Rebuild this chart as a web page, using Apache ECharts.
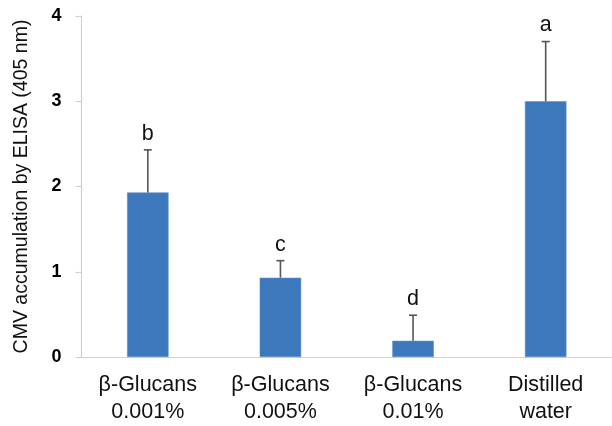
<!DOCTYPE html>
<html><head><meta charset="utf-8">
<script src="https://cdn.jsdelivr.net/npm/echarts@6/dist/echarts.min.js"></script>
<style>html,body{margin:0;padding:0;background:#fff}#c{width:612px;height:426px}</style>
</head><body><div id="c"></div>
<script>
const categories = ['β-Glucans\n0.001%', 'β-Glucans\n0.005%', 'β-Glucans\n0.01%', 'Distilled\nwater'];
const means = [1.93, 0.93, 0.19, 3.00];
const errors = [0.50, 0.20, 0.30, 0.70];
const letters = ['b', 'c', 'd', 'a'];
const yTicks = [0, 1, 2, 3, 4];

const errData = means.map((m, i) => [i, m, m + errors[i]]);

const chart = echarts.init(document.getElementById('c'));
chart.setOption({
  animation: false,
  grid: { left: 81.5, top: 16, width: 536, height: 346, containLabel: false },
  xAxis: {
    type: 'category', data: categories,
    axisLine: { lineStyle: { color: '#d0d0d0', width: 1.2 } },
    axisTick: { show: false },
    axisLabel: { color: '#111', fontSize: 21.5, fontFamily: 'Liberation Sans, Arial', lineHeight: 27, margin: 15, interval: 0 }
  },
  yAxis: {
    type: 'value', min: yTicks[0], max: yTicks[yTicks.length - 1], interval: 1,
    name: 'CMV accumulation by ELISA (405 nm)', nameLocation: 'middle', nameGap: 50, nameRotate: 90,
    nameTextStyle: { color: '#111', fontSize: 19.5, fontFamily: 'Liberation Sans, Arial' },
    axisLine: { show: true, lineStyle: { color: '#d0d0d0', width: 1.2 } },
    axisTick: { show: true, length: 6, lineStyle: { color: '#d0d0d0', width: 1.2 } },
    splitLine: { show: false },
    axisLabel: { color: '#000', fontSize: 18, fontWeight: 'bold', fontFamily: 'Liberation Sans, Arial', margin: 20 }
  },
  series: [
    {
      type: 'bar', data: means, barWidth: 41.5,
      itemStyle: { color: '#3d78bc', borderColor: '#5a8fcc', borderWidth: 0.6 }
    },
    {
      type: 'custom', data: errData, z: 5,
      renderItem: function (params, api) {
        const i = api.value(0);
        const base = api.coord([i, api.value(1)]);
        const top = api.coord([i, api.value(2)]);
        const cw = 4;
        return {
          type: 'group',
          children: [
            { type: 'line', shape: { x1: top[0], y1: base[1], x2: top[0], y2: top[1] }, style: { stroke: '#555', lineWidth: 1.6 } },
            { type: 'line', shape: { x1: top[0] - cw, y1: top[1], x2: top[0] + cw, y2: top[1] }, style: { stroke: '#555', lineWidth: 1.6 } },
            { type: 'text', style: { text: letters[params.dataIndex], x: top[0], y: top[1] - 5, textAlign: 'center', textVerticalAlign: 'bottom', fontSize: 21.5, fontFamily: 'Liberation Sans, Arial', fill: '#111' } }
          ]
        };
      }
    }
  ]
});
</script></body></html>
